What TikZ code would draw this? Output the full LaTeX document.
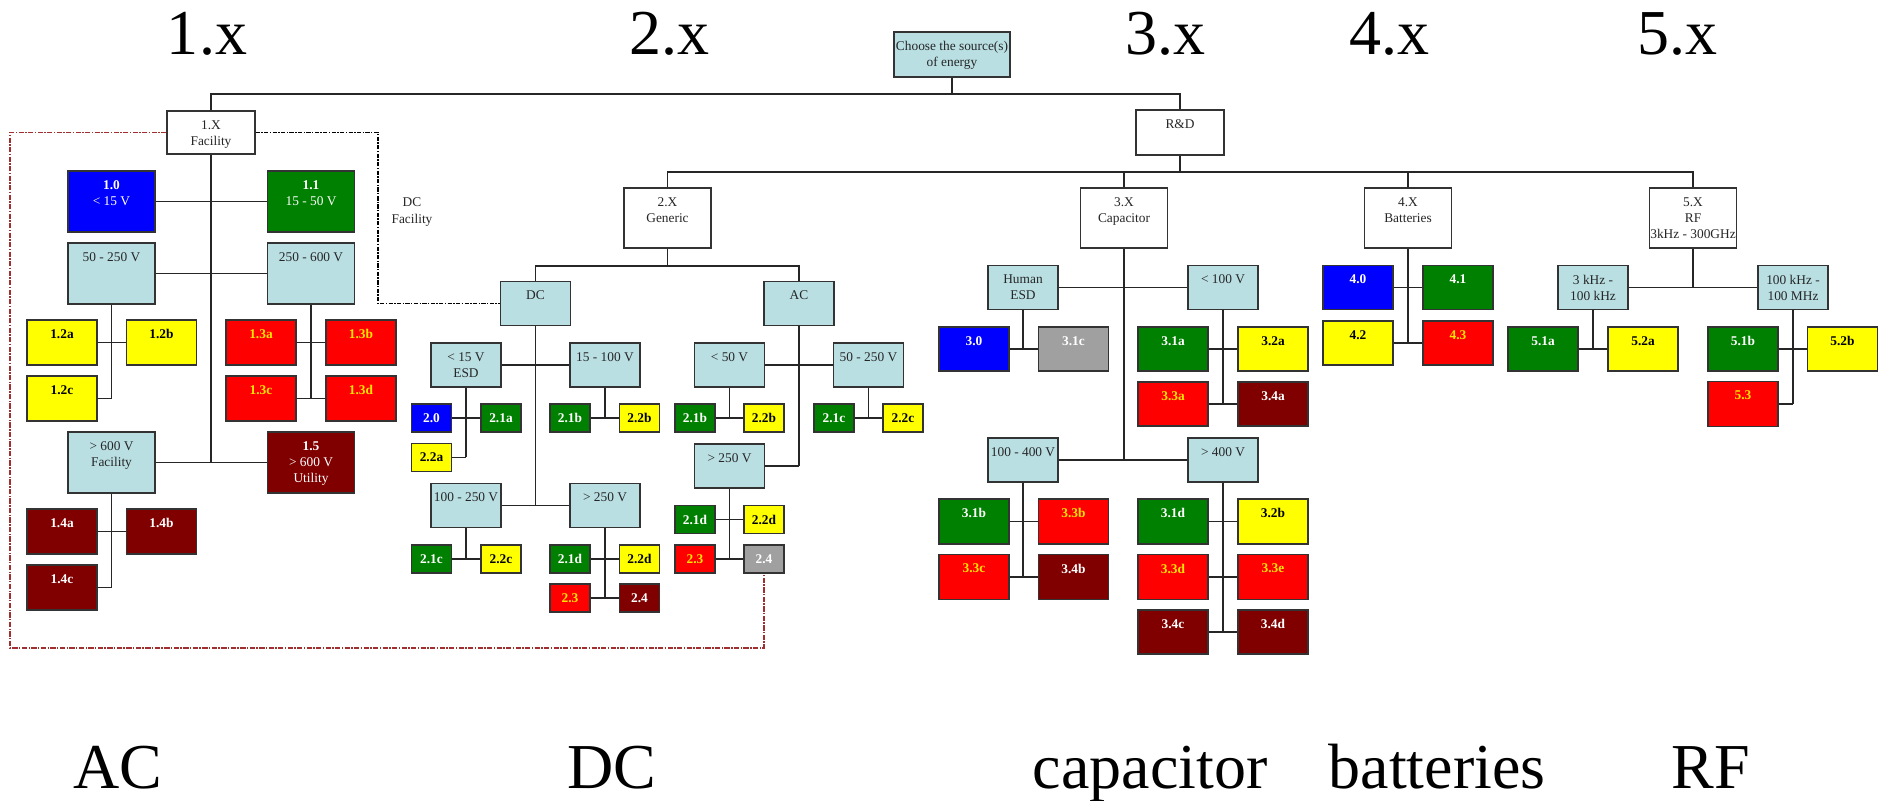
\documentclass[tikz,border=0pt]{standalone}
\usepackage{fontspec}
\setmainfont{Liberation Serif}
\definecolor{srcblue}{HTML}{B9DFE3}
\definecolor{lvblue}{HTML}{0000FF}
\definecolor{lvgreen}{HTML}{008000}
\definecolor{lvyellow}{HTML}{FFFF00}
\definecolor{lvred}{HTML}{FF0000}
\definecolor{lvmaroon}{HTML}{800000}
\definecolor{lvgray}{HTML}{A0A0A0}
\definecolor{lvgold}{HTML}{FFE600}
\definecolor{acline}{HTML}{A03030}
\newcommand{\boxfont}{\fontsize{3.8pt}{4.6pt}\selectfont}

\begin{document}
\begin{tikzpicture}[x=0.01cm,y=-0.01cm,font=\boxfont,
      bx/.style={draw=black!80,line width=0.4pt,inner sep=0pt},
      lbl/.style={anchor=north,yshift=-2.7pt,inner sep=0pt,align=center,font=\boxfont},
      cwhite/.style={bx,fill=white,label={[lbl,text=black!85]north:#1}},
      clight/.style={bx,fill=srcblue,label={[lbl,text=black!85]north:#1}},
      cblue/.style={bx,fill=lvblue,label={[lbl,text=white]north:#1}},
      cgreen/.style={bx,fill=lvgreen,label={[lbl,text=white]north:#1}},
      cyell/.style={bx,fill=lvyellow,label={[lbl,text=black]north:#1}},
      cred/.style={bx,fill=lvred,label={[lbl,text=lvgold]north:#1}},
      cmaroon/.style={bx,fill=lvmaroon,label={[lbl,text=white]north:#1}},
      cgray/.style={bx,fill=lvgray,label={[lbl,text=white]north:#1}},
      big/.style={minimum width=0.87cm,minimum height=0.61cm},
      head/.style={minimum width=0.87cm,minimum height=0.6cm},
      leaf/.style={minimum width=0.7cm,minimum height=0.45cm},
      mid/.style={minimum width=0.7cm,minimum height=0.44cm},
      tiny/.style={minimum width=0.4cm,minimum height=0.28cm},
      wire/.style={draw=black!85,line width=0.35pt},
      acfac/.style={draw=acline,line width=0.45pt,dash pattern=on 1.5pt off 0.4pt on 0.4pt off 0.4pt},
      dcfac/.style={draw=black,line width=0.4pt,dash pattern=on 1.2pt off 0.4pt on 0.4pt off 0.4pt},
      tag/.style={font=\fontsize{18.2pt}{20pt}\selectfont,anchor=base,inner sep=0pt},
      note/.style={align=center,text=black!85,inner sep=0pt}]
    \useasboundingbox (0,0) rectangle (1885,801);

    % headings
    \node[tag] (h1) at (207,55) {1.x};
    \node[tag] (h2) at (669.5,55) {2.x};
    \node[tag] (h3) at (1165,55) {3.x};
    \node[tag] (h4) at (1389,55) {4.x};
    \node[tag] (h5) at (1677,55) {5.x};
    \node[tag] (fAC) at (117.5,789) {AC};
    \node[tag] (fDC) at (612,789) {DC};
    \node[tag] (fcap) at (1150,789) {capacitor};
    \node[tag] (fbat) at (1437,789) {batteries};
    \node[tag] (fRF) at (1711,789) {RF};

    % root
    \node[clight={Choose the source(s)\\of energy},minimum width=1.16cm,minimum height=0.45cm] (src) at (952,54.5) {};
    \node[cwhite={1.X\\Facility},minimum width=0.88cm,minimum height=0.43cm] (fac) at (211,132.5) {};
    \node[cwhite={R\&D},minimum width=0.88cm,minimum height=0.45cm] (rnd) at (1180,132.5) {};
    \coordinate (top) at (952,94);
    \draw[wire] (src) -- (top);
    \draw[wire] (fac) |- (top) -| (rnd);

    % 1.x facility
    \node[cblue={\textbf{1.0}\\< 15 V},big] (n10) at (111.5,201.5) {};
    \node[cgreen={\textbf{1.1}\\15 - 50 V},big] (n11) at (311,201.5) {};
    \node[clight={50 - 250 V},big] (n12) at (111.5,273.5) {};
    \node[clight={250 - 600 V},big] (n13) at (311,273.5) {};
    \node[cyell={\textbf{1.2a}},leaf] (n12a) at (62,342.5) {};
    \node[cyell={\textbf{1.2b}},leaf] (n12b) at (161.5,342.5) {};
    \node[cyell={\textbf{1.2c}},leaf] (n12c) at (62,398.5) {};
    \node[cred={\textbf{1.3a}},leaf] (n13a) at (261,342.5) {};
    \node[cred={\textbf{1.3b}},leaf] (n13b) at (361,342.5) {};
    \node[cred={\textbf{1.3c}},leaf] (n13c) at (261,398.5) {};
    \node[cred={\textbf{1.3d}},leaf] (n13d) at (361,398.5) {};
    \node[clight={> 600 V\\Facility},big] (n14) at (111.5,462.5) {};
    \node[cmaroon={\textbf{1.5}\\> 600 V\\Utility},big] (n15) at (311,462.5) {};
    \node[cmaroon={\textbf{1.4a}},leaf] (n14a) at (62,531.5) {};
    \node[cmaroon={\textbf{1.4b}},leaf] (n14b) at (161.5,531.5) {};
    \node[cmaroon={\textbf{1.4c}},leaf] (n14c) at (62,587.5) {};
    \draw[wire] (fac) -- (fac |- n14);
    \draw[wire] (n10) -- (n11);
    \draw[wire] (n12) -- (n13);
    \draw[wire] (n14) -- (n15);
    \draw[wire] (n12) -- (n12 |- n12c);
    \draw[wire] (n12a) -- (n12b);
    \draw[wire] (n12c) -- (n12 |- n12c);
    \draw[wire] (n13) -- (n13 |- n13c);
    \draw[wire] (n13a) -- (n13b);
    \draw[wire] (n13c) -- (n13d);
    \draw[wire] (n14) -- (n14 |- n14c);
    \draw[wire] (n14a) -- (n14b);
    \draw[wire] (n14c) -- (n14 |- n14c);

    % R&D
    \node[cwhite={2.X\\Generic},head] (gen) at (667.5,218) {};
    \node[cwhite={3.X\\Capacitor},head] (cap) at (1124,218) {};
    \node[cwhite={4.X\\Batteries},head] (bat) at (1408,218) {};
    \node[cwhite={5.X\\RF\\3kHz - 300GHz},head] (rf) at (1693,218) {};
    \coordinate (rdbar) at (1180,172);
    \draw[wire] (rnd) -- (rdbar);
    \draw[wire] (gen) |- (rdbar) -| (rf);
    \draw[wire] (cap) -- (cap |- rdbar);
    \draw[wire] (bat) -- (bat |- rdbar);

    % 2.x generic
    \node[clight={DC},mid] (dc) at (535.5,303.5) {};
    \node[clight={AC},mid] (ac) at (799,303.5) {};
    \coordinate (genbar) at (667.5,266);
    \draw[wire] (gen) -- (genbar);
    \draw[wire] (dc) |- (genbar) -| (ac);
    \node[clight={< 15 V\\ESD},mid] (d1) at (466,365) {};
    \node[clight={15 - 100 V},mid] (d2) at (605,365) {};
    \node[clight={100 - 250 V},mid] (d3) at (466,505.5) {};
    \node[clight={> 250 V},mid] (d4) at (605,505.5) {};
    \node[cblue={\textbf{2.0}},tiny] (d20) at (431.5,418) {};
    \node[cgreen={\textbf{2.1a}},tiny] (d21a) at (501,418) {};
    \node[cyell={\textbf{2.2a}},tiny] (d22a) at (431.5,457.5) {};
    \node[cgreen={\textbf{2.1b}},tiny] (d21b) at (570,418) {};
    \node[cyell={\textbf{2.2b}},tiny] (d22b) at (639.5,418) {};
    \node[cgreen={\textbf{2.1c}},tiny] (d21c) at (431.5,559) {};
    \node[cyell={\textbf{2.2c}},tiny] (d22c) at (501,559) {};
    \node[cgreen={\textbf{2.1d}},tiny] (d21d) at (570,559) {};
    \node[cyell={\textbf{2.2d}},tiny] (d22d) at (639.5,559) {};
    \node[cred={\textbf{2.3}},tiny] (d23) at (570,598) {};
    \node[cmaroon={\textbf{2.4}},tiny] (d24) at (639.5,598) {};
    \draw[wire] (dc) -- (dc |- d3);
    \draw[wire] (d1) -- (d2);
    \draw[wire] (d3) -- (d4);
    \draw[wire] (d1) -- (d1 |- d22a);
    \draw[wire] (d20) -- (d21a);
    \draw[wire] (d22a) -- (d1 |- d22a);
    \draw[wire] (d2) -- (d2 |- d21b);
    \draw[wire] (d21b) -- (d22b);
    \draw[wire] (d3) -- (d3 |- d21c);
    \draw[wire] (d21c) -- (d22c);
    \draw[wire] (d4) -- (d4 |- d23);
    \draw[wire] (d21d) -- (d22d);
    \draw[wire] (d23) -- (d24);

    \node[clight={< 50 V},mid] (a1) at (729.5,365) {};
    \node[clight={50 - 250 V},mid] (a2) at (868.5,365) {};
    \node[clight={> 250 V},mid] (a3) at (729.5,466) {};
    \node[cgreen={\textbf{2.1b}},tiny] (a21b) at (695,418) {};
    \node[cyell={\textbf{2.2b}},tiny] (a22b) at (764,418) {};
    \node[cgreen={\textbf{2.1c}},tiny] (a21c) at (834,418) {};
    \node[cyell={\textbf{2.2c}},tiny] (a22c) at (903,418) {};
    \node[cgreen={\textbf{2.1d}},tiny] (a21d) at (695,519.5) {};
    \node[cyell={\textbf{2.2d}},tiny] (a22d) at (764,519.5) {};
    \node[cred={\textbf{2.3}},tiny] (a23) at (695,559) {};
    \node[cgray={\textbf{2.4}},tiny] (a24) at (764,559) {};
    \draw[wire] (ac) -- (ac |- a3);
    \draw[wire] (a1) -- (a2);
    \draw[wire] (a3) -- (ac |- a3);
    \draw[wire] (a1) -- (a1 |- a21b);
    \draw[wire] (a21b) -- (a22b);
    \draw[wire] (a2) -- (a2 |- a21c);
    \draw[wire] (a21c) -- (a22c);
    \draw[wire] (a3) -- (a3 |- a23);
    \draw[wire] (a21d) -- (a22d);
    \draw[wire] (a23) -- (a24);

    % facility boundaries
    \node[note] (dcnote) at (412,212) {DC\\Facility};
    \coordinate (dcbend) at (378,200);
    \draw[dcfac] (fac.east) -| (dcbend) |- (dc.west);
    \coordinate (acfoot) at (10,648);
    \draw[acfac] (fac.west) -| (acfoot) -| (a24.south);

    % 3.x capacitor
    \node[clight={Human\\ESD},mid] (c0) at (1023,287.5) {};
    \node[clight={< 100 V},mid] (c1) at (1223,287.5) {};
    \node[clight={100 - 400 V},mid] (c2) at (1023,460) {};
    \node[clight={> 400 V},mid] (c3) at (1223,460) {};
    \node[cblue={\textbf{3.0}},mid] (c30) at (974,349) {};
    \node[cgray={\textbf{3.1c}},mid] (c31c) at (1073.5,349) {};
    \node[cgreen={\textbf{3.1a}},mid] (c31a) at (1173,349) {};
    \node[cyell={\textbf{3.2a}},mid] (c32a) at (1273,349) {};
    \node[cred={\textbf{3.3a}},mid] (c33a) at (1173,404) {};
    \node[cmaroon={\textbf{3.4a}},mid] (c34a) at (1273,404) {};
    \node[cgreen={\textbf{3.1b}},leaf] (c31b) at (974,521.5) {};
    \node[cred={\textbf{3.3b}},leaf] (c33b) at (1073.5,521.5) {};
    \node[cred={\textbf{3.3c}},leaf] (c33c) at (974,577) {};
    \node[cmaroon={\textbf{3.4b}},leaf] (c34b) at (1073.5,577) {};
    \node[cgreen={\textbf{3.1d}},leaf] (c31d) at (1173,521.5) {};
    \node[cyell={\textbf{3.2b}},leaf] (c32b) at (1273,521.5) {};
    \node[cred={\textbf{3.3d}},leaf] (c33d) at (1173,577) {};
    \node[cred={\textbf{3.3e}},leaf] (c33e) at (1273,577) {};
    \node[cmaroon={\textbf{3.4c}},mid] (c34c) at (1173,632) {};
    \node[cmaroon={\textbf{3.4d}},mid] (c34d) at (1273,632) {};
    \draw[wire] (cap) -- (cap |- c2);
    \draw[wire] (c0) -- (c1);
    \draw[wire] (c2) -- (c3);
    \draw[wire] (c0) -- (c0 |- c30);
    \draw[wire] (c30) -- (c31c);
    \draw[wire] (c1) -- (c1 |- c34a);
    \draw[wire] (c31a) -- (c32a);
    \draw[wire] (c33a) -- (c34a);
    \draw[wire] (c2) -- (c2 |- c33c);
    \draw[wire] (c31b) -- (c33b);
    \draw[wire] (c33c) -- (c34b);
    \draw[wire] (c3) -- (c3 |- c34c);
    \draw[wire] (c31d) -- (c32b);
    \draw[wire] (c33d) -- (c33e);
    \draw[wire] (c34c) -- (c34d);

    % 4.x batteries
    \node[cblue={\textbf{4.0}},mid] (b40) at (1358,287.5) {};
    \node[cgreen={\textbf{4.1}},mid] (b41) at (1458,287.5) {};
    \node[cyell={\textbf{4.2}},mid] (b42) at (1358,343) {};
    \node[cred={\textbf{4.3}},mid] (b43) at (1458,343) {};
    \draw[wire] (bat) -- (bat |- b42);
    \draw[wire] (b40) -- (b41);
    \draw[wire] (b42) -- (b43);

    % 5.x RF
    \node[clight={3 kHz -\\100 kHz},mid] (f1) at (1593,287.5) {};
    \node[clight={100 kHz -\\100 MHz},mid] (f2) at (1793,287.5) {};
    \node[cgreen={\textbf{5.1a}},mid] (f51a) at (1543,349) {};
    \node[cyell={\textbf{5.2a}},mid] (f52a) at (1643,349) {};
    \node[cgreen={\textbf{5.1b}},mid] (f51b) at (1743,349) {};
    \node[cyell={\textbf{5.2b}},mid] (f52b) at (1842.5,349) {};
    \node[cred={\textbf{5.3}},leaf] (f53) at (1743,404) {};
    \draw[wire] (rf) -- (rf |- f1);
    \draw[wire] (f1) -- (f2);
    \draw[wire] (f1) -- (f1 |- f51a);
    \draw[wire] (f51a) -- (f52a);
    \draw[wire] (f2) -- (f2 |- f53);
    \draw[wire] (f51b) -- (f52b);
    \draw[wire] (f53) -- (f2 |- f53);
  \end{tikzpicture}
\end{document}
